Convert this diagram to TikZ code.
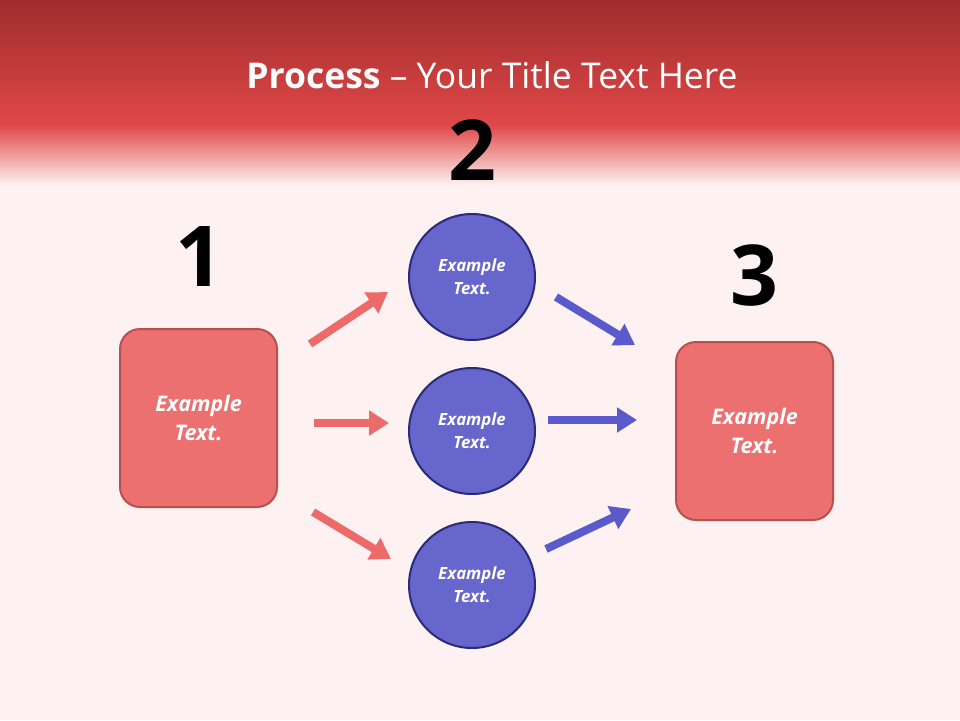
\documentclass[tikz,border=0pt]{standalone}
\usepackage{fontspec}
\setmainfont{Open Sans}
\usetikzlibrary{arrows.meta}
\begin{document}
\begin{tikzpicture}[x=1pt,y=-1pt,
 box/.style={draw=boxline,line width=2pt,fill=boxfill,rounded corners=20pt,minimum width=157pt,minimum height=178pt,text=white,font=\fontsize{21.5}{29}\selectfont\bfseries\itshape,align=center},
 circ/.style={circle,draw=circline,line width=2pt,fill=circfill,minimum size=126pt,text=white,font=\fontsize{16.8}{23}\selectfont\bfseries\itshape,align=center},
 num/.style={font=\fontsize{84}{84}\selectfont\bfseries,text=black},
 rarr/.style={line width=8pt,draw=arrred,-{Triangle[length=20pt,width=24pt]}},
 barr/.style={line width=8pt,draw=arrblue,-{Triangle[length=20pt,width=24pt]}}]
\definecolor{boxfill}{HTML}{EC7070}
\definecolor{boxline}{HTML}{B85050}
\definecolor{circfill}{HTML}{6666CC}
\definecolor{circline}{HTML}{2A2A7A}
\definecolor{arrred}{HTML}{EC6A6A}
\definecolor{arrblue}{HTML}{5A5ACC}
\definecolor{topred}{HTML}{A02C2C}
\definecolor{midred}{HTML}{E04848}
\definecolor{pale}{HTML}{FDF1F1}
\useasboundingbox (0,0) rectangle (960,720);
\fill[pale] (0,0) rectangle (960,720);
\shade[top color=topred,bottom color=midred] (0,0) rectangle (960,125);
\shade[top color=midred,bottom color=pale] (0,125) rectangle (960,185);
\node[text=white,font=\fontsize{35.5}{40}\selectfont] (title) at (492,75) {\textbf{Process} – Your Title Text Here};
\node[num] (n2) at (472,150) {2};
\node[num] (n1) at (199,257) {1};
\node[num] (n3) at (754,275) {3};
\node[box] (b1) at (198.5,418) {Example\\Text.};
\node[box] (b3) at (754.5,431) {Example\\Text.};
\node[circ] (c1) at (472,277) {Example\\Text.};
\node[circ] (c2) at (472,431) {Example\\Text.};
\node[circ] (c3) at (472,585) {Example\\Text.};
\coordinate (r1s) at (310,344); \coordinate (r1e) at (388,292);
\coordinate (r2s) at (314,423); \coordinate (r2e) at (389,423);
\coordinate (r3s) at (313,512); \coordinate (r3e) at (391,559);
\coordinate (b1s) at (556,297); \coordinate (b1e) at (635,345);
\coordinate (b2s) at (548,420); \coordinate (b2e) at (637,420);
\coordinate (b3s) at (546,549); \coordinate (b3e) at (631,509);
\draw[rarr] (r1s) -- (r1e);
\draw[rarr] (r2s) -- (r2e);
\draw[rarr] (r3s) -- (r3e);
\draw[barr] (b1s) -- (b1e);
\draw[barr] (b2s) -- (b2e);
\draw[barr] (b3s) -- (b3e);
\end{tikzpicture}
\end{document}
